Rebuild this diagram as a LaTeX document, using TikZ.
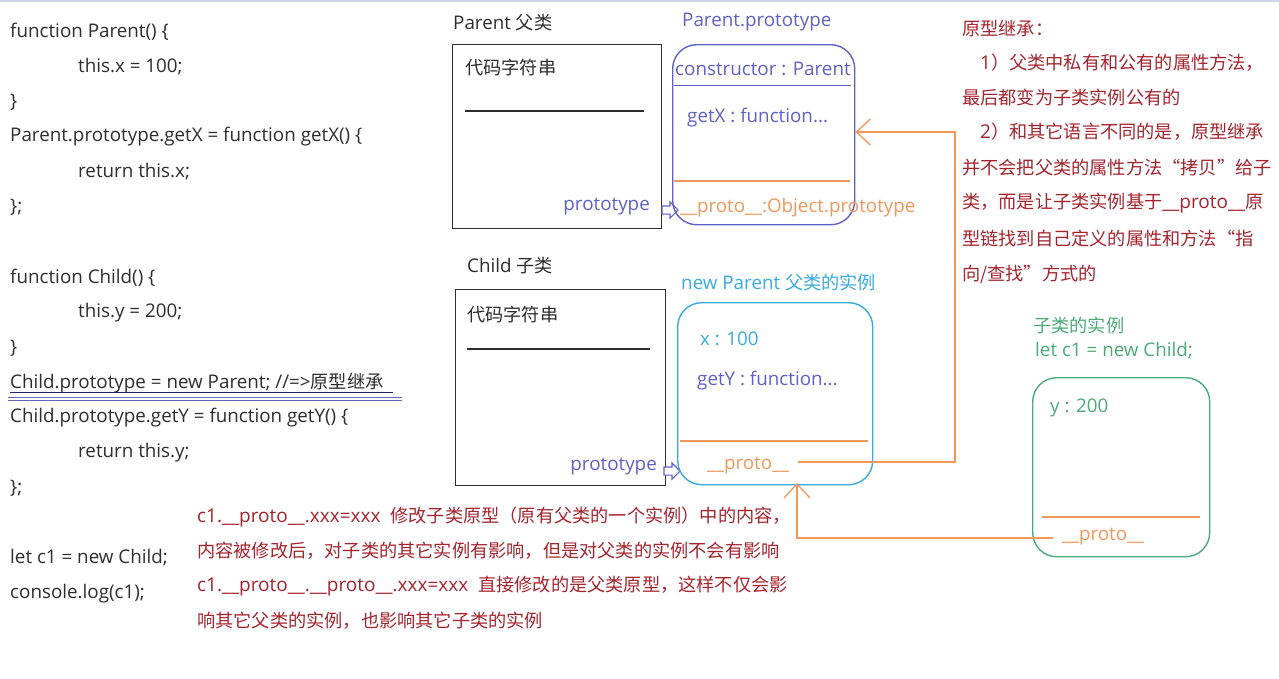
\documentclass[tikz,border=0pt]{standalone}
\usepackage{fontspec}
\setmainfont{Open Sans}
\newfontfamily\cjkfont{Noto Sans CJK SC}
\newcommand{\zh}[1]{{\cjkfont\fontsize{18.2}{20}\selectfont #1}}
\usetikzlibrary{arrows.meta,shapes.arrows,positioning}

\definecolor{codegray}{RGB}{45,45,45}
\definecolor{notered}{RGB}{165,35,45}
\definecolor{protoviolet}{RGB}{95,95,205}
\definecolor{protoorange}{RGB}{242,150,90}
\definecolor{instcyan}{RGB}{55,170,225}
\definecolor{instgreen}{RGB}{75,170,120}
\definecolor{topline}{RGB}{205,210,230}

\tikzset{
  code/.style={anchor=west, inner sep=0pt, text=codegray, font=\fontsize{18.8}{20}\selectfont},
  note/.style={anchor=west, inner sep=0pt, text=notered, font=\fontsize{19}{21}\selectfont},
  classbox/.style={draw=codegray, line width=1.4pt, anchor=north west, inner sep=0pt},
  protobox/.style={line width=1.4pt, rounded corners=24pt, anchor=north west, inner sep=0pt},
  hollowarrow/.style={single arrow, draw=protoviolet, fill=white, line width=1.1pt,
    inner sep=3.5pt, minimum height=16pt, single arrow head extend=4pt},
  protolink/.style={draw=protoorange, line width=1.3pt, -{Straight Barb[length=14pt,width=26pt]}},
  divider/.style={line width=1.4pt}
}

\begin{document}
\begin{tikzpicture}[x=1pt, y=-1pt]
  \useasboundingbox (0,0) rectangle (1279,678);
  \draw[topline, line width=2pt] (0,1) -- (1279,1);

  % source code on the left
  \node[code] (cParent)  at (10,32)  {function Parent() \{};
  \node[code] (cThisX)   at (78,67)  {this.x = 100;};
  \node[code] (cEnd1)    at (10,102) {\}};
  \node[code] (cGetX)    at (10,137) {Parent.prototype.getX = function getX() \{};
  \node[code] (cRetX)    at (78,172) {return this.x;};
  \node[code] (cEnd2)    at (10,207) {\};};
  \node[code] (cChild)   at (10,278) {function Child() \{};
  \node[code] (cThisY)   at (78,313) {this.y = 200;};
  \node[code] (cEnd3)    at (10,348) {\}};
  \node[code] (cInherit) at (10,383) {Child.prototype = new Parent; //=>\zh{原型继承}};
  \node[code] (cGetY)    at (10,418) {Child.prototype.getY = function getY() \{};
  \node[code] (cRetY)    at (78,453) {return this.y;};
  \node[code] (cEnd4)    at (10,488) {\};};
  \node[code] (cNew)     at (10,558) {let c1 = new Child;};
  \node[code] (cLog)     at (10,594) {console.log(c1);};
  \draw[codegray!70!blue, line width=0.8pt] (10,392) -- (393,392);
  \draw[protoviolet!80!gray, line width=1pt] (8,397.5) -- (402,397.5);
  \draw[protoviolet!80!gray, line width=1pt] (8,400.5) -- (402,400.5);

  % Parent class
  \node[code] (parentLbl) at (453,23) {Parent \zh{父类}};
  \node[classbox, minimum width=209pt, minimum height=184pt] (parent) at (452,44) {};
  \node[code] (parentSrc) at (465,68) {\zh{代码字符串}};
  \draw[codegray, divider] (465,111) -- (644,111);
  \node[code, anchor=east, text=protoviolet] (parentPtr) at (650,207) {prototype};
  \node[hollowarrow] (parentArr) at (668,210) {};

  % Parent.prototype
  \node[code, text=protoviolet] (ppLbl) at (682,22) {Parent.prototype};
  \node[protobox, draw=protoviolet, minimum width=182pt, minimum height=180pt] (pp) at (672,44) {};
  \node[code, text=protoviolet] (ppCtor) at (675,69) {constructor : Parent};
  \draw[protoviolet, divider] (674,85.5) -- (851,85.5);
  \node[code, text=protoviolet] (ppGetX) at (687,118) {getX : function...};
  \draw[protoorange, divider] (674,181) -- (850,181);
  \node[code, text=protoorange] (ppProto) at (680,208) {\_\_proto\_\_:Object.prototype};

  % Child class
  \node[code] (childLbl) at (467,266) {Child \zh{子类}};
  \node[classbox, minimum width=210pt, minimum height=196pt] (child) at (455,289) {};
  \node[code] (childSrc) at (467,315) {\zh{代码字符串}};
  \draw[codegray, divider] (467,349) -- (650,349);
  \node[code, anchor=east, text=protoviolet] (childPtr) at (657,467) {prototype};
  \node[hollowarrow] (childArr) at (670,471) {};

  % new Parent instance
  \node[code, text=instcyan] (npLbl) at (681,283) {new Parent \zh{父类的实例}};
  \node[protobox, draw=instcyan, minimum width=195pt, minimum height=182pt] (np) at (677,302) {};
  \node[code, text=instcyan] (npX) at (700,339) {x : 100};
  \node[code, text=protoviolet] (npGetY) at (697,381) {getY : function...};
  \draw[protoorange, divider] (680,441) -- (868,441);
  \node[code, text=protoorange] (npProto) at (707,466) {\_\_proto\_\_};

  % child instance c1
  \node[code, text=instgreen] (c1Lbl) at (1033,326) {\zh{子类的实例}};
  \node[code, text=instgreen] (c1Let) at (1035,351) {let c1 = new Child;};
  \node[protobox, draw=instgreen, minimum width=177pt, minimum height=179pt] (c1) at (1032,377) {};
  \node[code, text=instgreen] (c1Y) at (1050,408) {y : 200};
  \draw[protoorange, divider] (1042,517) -- (1200,517);
  \node[code, text=protoorange] (c1Proto) at (1062,537) {\_\_proto\_\_};

  % __proto__ links
  \coordinate (npOut) at (798,462);
  \coordinate (bend)  at (955,132);
  \draw[protolink] (npOut) -| (bend) -- (pp.east |- bend);
  \coordinate (c1Out) at (1053,538);
  \coordinate (npIn)  at (797,483);
  \draw[protolink] (c1Out) -| (npIn);

  % notes
  \node[note] (nHead)  at (962,29)  {\zh{原型继承：}};
  \node[note] (nOne)   at (980,63)  {1\zh{）父类中私有和公有的属性方法，}};
  \node[note] (nOneB)  at (962,98)  {\zh{最后都变为子类实例公有的}};
  \node[note] (nTwo)   at (980,132) {2\zh{）和其它语言不同的是，原型继承}};
  \node[note] (nTwoB)  at (962,168) {\zh{并不会把父类的属性方法“拷贝”给子}};
  \node[note] (nTwoC)  at (962,203) {\zh{类，而是让子类实例基于}\_\_proto\_\_\zh{原}};
  \node[note] (nTwoD)  at (962,239) {\zh{型链找到自己定义的属性和方法“指}};
  \node[note] (nTwoE)  at (962,274) {\zh{向/查找”方式的}};

  \node[note] (bOne)   at (197,517) {c1.\_\_proto\_\_.xxx=xxx\hspace{10pt}\zh{修改子类原型（原有父类的一个实例）中的内容，}};
  \node[note] (bOneB)  at (197,551) {\zh{内容被修改后，对子类的其它实例有影响，但是对父类的实例不会有影响}};
  \node[note] (bTwo)   at (197,586) {c1.\_\_proto\_\_.\_\_proto\_\_.xxx=xxx\hspace{10pt}\zh{直接修改的是父类原型，这样不仅会影}};
  \node[note] (bTwoB)  at (197,621) {\zh{响其它父类的实例，也影响其它子类的实例}};
\end{tikzpicture}
\end{document}
